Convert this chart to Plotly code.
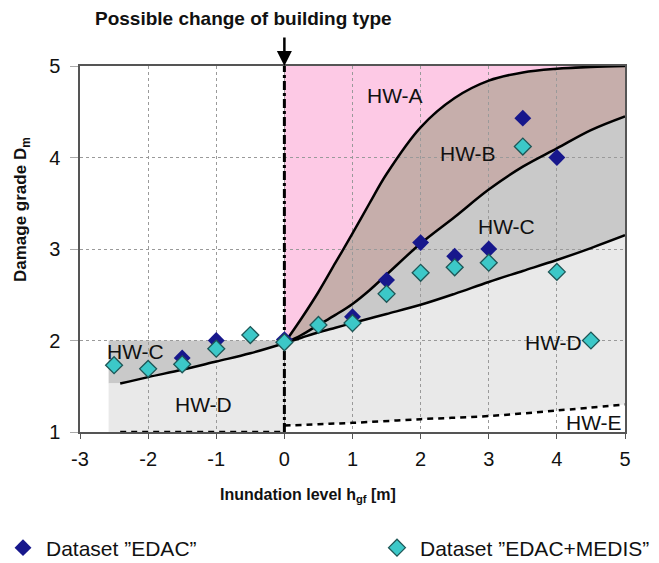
import plotly.graph_objects as go

# ---------------- data ----------------
edac_x = [-1.5, -1, 0, 1, 1.5, 2, 2.5, 3, 3.5, 4]
edac_y = [1.81, 2.0, 2.01, 2.26, 2.66, 3.07, 2.92, 3.0, 4.43, 4.0]

medis_x = [-2.5, -2, -1.5, -1, -0.5, 0, 0.5, 1, 1.5, 2, 2.5, 3, 3.5, 4, 4.5]
medis_y = [1.73, 1.69, 1.74, 1.91, 2.06, 1.98, 2.17, 2.19, 2.51, 2.74, 2.80, 2.85, 4.12, 2.75, 2.0]

curve_x = [0, 0.25, 0.5, 0.75, 1.0, 1.25, 1.5, 2.0, 2.5, 3.0, 3.5, 4.0, 4.5, 5.0]
curve_ab = [1.97, 2.24, 2.53, 2.85, 3.17, 3.5, 3.82, 4.33, 4.65, 4.84, 4.93, 4.97, 4.99, 5.0]
curve_bc = [1.97, 2.06, 2.17, 2.28, 2.4, 2.55, 2.72, 3.06, 3.35, 3.65, 3.9, 4.1, 4.3, 4.45]
curve_cd = [1.97, 2.03, 2.09, 2.14, 2.19, 2.24, 2.29, 2.39, 2.51, 2.64, 2.76, 2.88, 3.01, 3.15]

left_x = [-2.41, -2, -1.5, -1, -0.5, 0]
left_cd = [1.53, 1.60, 1.68, 1.77, 1.86, 1.97]
left_edge = -2.58
left_top = 2.0

de_x = [0, 0.5, 1, 2, 3, 4, 5]
de_y = [1.07, 1.085, 1.10, 1.14, 1.175, 1.235, 1.30]

x_ticks = [-3, -2, -1, 0, 1, 2, 3, 4, 5]
x_tick_text = ["-3", "-2", "-1", "0", "1", "2", "3", "4", "5"]
y_ticks = [1, 2, 3, 4, 5]

labels = ["HW-A", "HW-B", "HW-C", "HW-C", "HW-D", "HW-D", "HW-E"]
label_x = [1.63, 2.70, 3.26, -2.19, -1.19, 3.95, 4.54]
label_y = [4.68, 4.04, 3.25, 1.88, 1.30, 1.98, 1.10]

PINK = "#fdc9e5"
BROWN = "#c6aeab"
GREY = "#c9c9c9"
LGREY = "#e9e9e9"
BLUE = "#17178c"
CYAN = "#3cc8c8"
FONT = "Liberation Sans, Arial, sans-serif"


def poly(xs, ys):
    pts = [f"{x},{y}" for x, y in zip(xs, ys)]
    return "M " + " L ".join(pts) + " Z"


rev = lambda a: list(reversed(a))

shapes = []
shapes.append(poly([0, 5] + rev(curve_x), [5, 5] + rev(curve_ab)))
shapes.append(poly(curve_x + rev(curve_x), curve_ab + rev(curve_bc)))
shapes.append(poly(curve_x + rev(curve_x), curve_bc + rev(curve_cd)))
shapes.append(poly(curve_x + rev(de_x), curve_cd + rev(de_y)))
shapes.append(poly([left_edge, 0] + rev(left_x) + [left_edge],
                   [left_top, left_top] + rev(left_cd) + [left_cd[0]]))
shapes.append(poly([left_edge] + left_x + [0, left_edge],
                   [left_cd[0]] + left_cd + [1, 1]))
fills = [PINK, BROWN, GREY, LGREY, GREY, LGREY]
shape_objs = [dict(type="path", path=p, xref="x", yref="y", fillcolor=c,
                   line=dict(width=0), layer="below") for p, c in zip(shapes, fills)]

fig = go.Figure()

for cy in [curve_ab, curve_bc, curve_cd]:
    fig.add_trace(go.Scatter(x=curve_x, y=cy, mode="lines", line=dict(color="black", width=2.5, shape="spline"),
                             showlegend=False, hoverinfo="skip"))
fig.add_trace(go.Scatter(x=left_x, y=left_cd, mode="lines", line=dict(color="black", width=2.5, shape="spline"),
                         showlegend=False, hoverinfo="skip"))
fig.add_trace(go.Scatter(x=de_x, y=de_y, mode="lines", line=dict(color="black", width=2.5, dash="6px,5px", shape="spline"),
                         showlegend=False, hoverinfo="skip"))
fig.add_trace(go.Scatter(x=[left_x[0], 0], y=[1, 1], mode="lines", line=dict(color="black", width=2.5, dash="6px,5px"),
                         showlegend=False, hoverinfo="skip"))
fig.add_trace(go.Scatter(x=[0, 0], y=[1, 5], mode="lines", line=dict(color="black", width=3, dash="dashdot"),
                         showlegend=False, hoverinfo="skip"))

fig.add_trace(go.Scatter(x=edac_x, y=edac_y, mode="markers", name="Dataset \u201dEDAC\u201d", legend="legend",
                         marker=dict(symbol="diamond", size=13, color=BLUE, line=dict(width=0))))
fig.add_trace(go.Scatter(x=medis_x, y=medis_y, mode="markers", name="Dataset \u201dEDAC+MEDIS\u201d", legend="legend2",
                         marker=dict(symbol="diamond", size=13, color=CYAN, line=dict(width=1.3, color="#1e5656"))))

annotations = []
for t, x, y in zip(labels, label_x, label_y):
    annotations.append(dict(x=x, y=y, xref="x", yref="y", text=t, showarrow=False,
                            xanchor="center", yanchor="middle",
                            font=dict(family=FONT, size=21, color="#111")))
annotations.append(dict(x=(243 - 80) / 545, y=(432 - 18) / 366, xref="paper", yref="paper",
                        xanchor="center", yanchor="middle",
                        text="<b>Possible change of building type</b>", showarrow=False,
                        font=dict(family=FONT, size=19, color="#111")))
annotations.append(dict(x=0, y=5, xref="x", yref="y", text="", showarrow=True, arrowhead=2,
                        arrowsize=1.2, arrowwidth=2.5, arrowcolor="black", ax=0, ay=-30))
annotations.append(dict(x=(22 - 80) / 545, y=(432 - 210) / 366, xref="paper", yref="paper",
                        xanchor="center", yanchor="middle",
                        text="<b>Damage grade D<sub>m</sub></b>", showarrow=False, textangle=-90,
                        font=dict(family=FONT, size=17, color="#111")))
annotations.append(dict(x=(308 - 80) / 545, y=(432 - 495) / 366, xref="paper", yref="paper",
                        xanchor="center", yanchor="middle",
                        text="<b>Inundation level h<sub>gf</sub> [m]</b>", showarrow=False,
                        font=dict(family=FONT, size=16, color="#111")))

legend_common = dict(xref="container", yref="container", y=15 / 563,
                     xanchor="left", yanchor="middle", itemwidth=36,
                     font=dict(family=FONT, size=21, color="#111"), bgcolor="rgba(0,0,0,0)")

fig.update_layout(
    width=659, height=563, autosize=False,
    margin=dict(l=80, r=34, t=66, b=131, autoexpand=False),
    paper_bgcolor="white", plot_bgcolor="white",
    shapes=shape_objs, annotations=annotations,
    showlegend=True,
    legend=dict(x=0.0, **legend_common),
    legend2=dict(x=374 / 659, **legend_common),
    font=dict(family=FONT, size=20, color="#111"),
)
fig.update_xaxes(range=[-3, 5], tickvals=x_ticks, ticktext=x_tick_text, ticks="outside", ticklen=5, tickcolor="#555",
                 showline=True, linecolor="#555", linewidth=1.5, mirror=True,
                 showgrid=True, gridcolor="#9a9a9a", griddash="dot", gridwidth=1, automargin=False,
                 zeroline=False, ticklabelstandoff=3, tickfont=dict(family=FONT, size=20))
fig.update_yaxes(range=[1, 5], tickvals=y_ticks, ticks="outside", ticklen=8, tickcolor="#aaa",
                 showline=True, linecolor="#555", linewidth=1.5, mirror=True,
                 showgrid=True, gridcolor="#9a9a9a", griddash="dot", gridwidth=1, automargin=False,
                 zeroline=False, ticklabelstandoff=6, tickfont=dict(family=FONT, size=20))

fig.write_html("out.html")
